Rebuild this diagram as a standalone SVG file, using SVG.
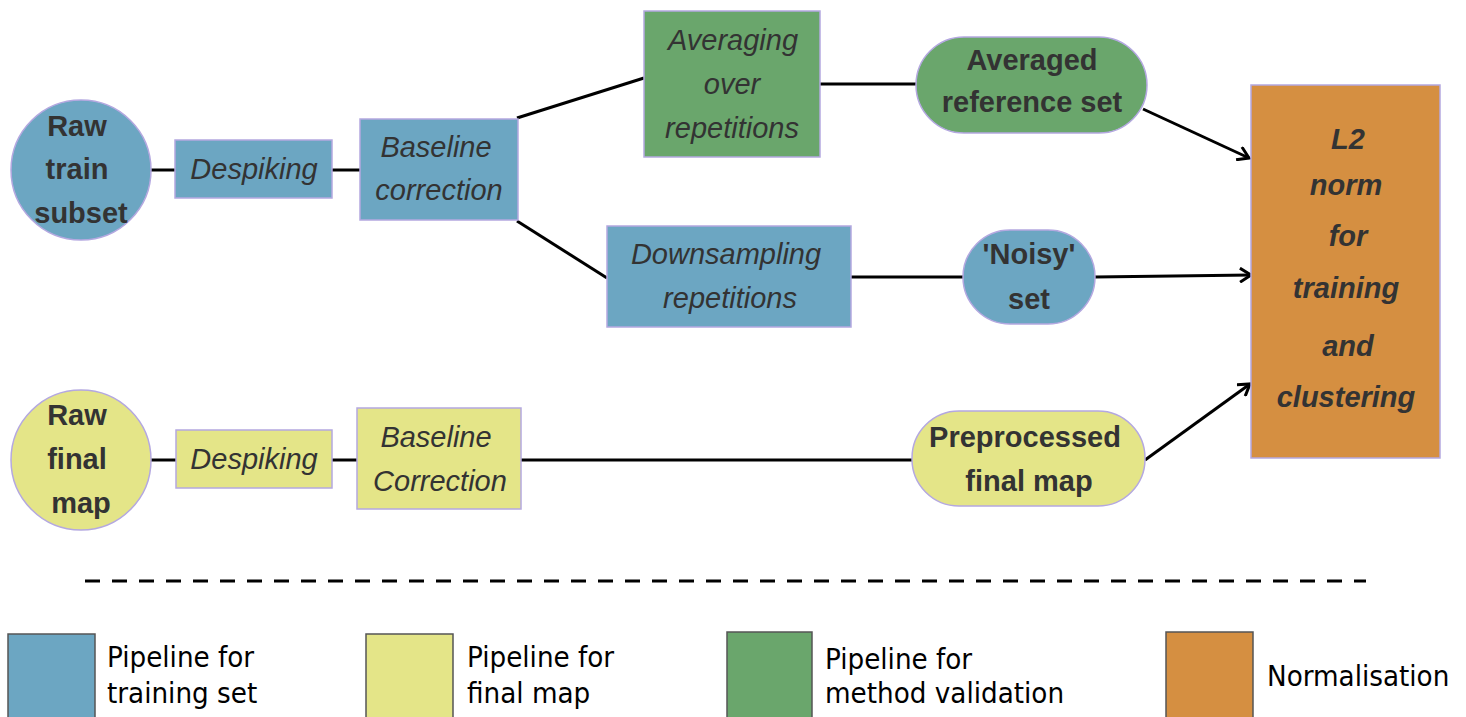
<svg xmlns="http://www.w3.org/2000/svg" width="1466" height="717" viewBox="0 0 1466 717">
<style>
.blue{fill:#6ca6c2;stroke:#b4a8e0;stroke-width:1.5}
.yel{fill:#e4e588;stroke:#b4a8e0;stroke-width:1.5}
.grn{fill:#6aa66c;stroke:#b4a8e0;stroke-width:1.5}
.org{fill:#d58f41;stroke:#b4a8e0;stroke-width:1.5}
.it{font-family:"Liberation Sans",Arial,sans-serif;font-style:italic;font-size:29px;fill:#333;text-anchor:middle}
.bd{font-family:"Liberation Sans",Arial,sans-serif;font-weight:bold;font-size:29px;fill:#333;text-anchor:middle}
.bi{font-family:"Liberation Sans",Arial,sans-serif;font-weight:bold;font-style:italic;font-size:29px;fill:#333;text-anchor:middle}
.lg{font-family:"DejaVu Sans",sans-serif;font-size:29.2px;fill:#000;font-stretch:condensed}
.lgbox{stroke:#555;stroke-width:1.5}
.c{stroke:#000;stroke-width:3;fill:none}
</style>
<defs>
<marker id="ah" markerWidth="16" markerHeight="16" refX="13" refY="8" orient="auto" markerUnits="userSpaceOnUse">
<path d="M2,1 L13,8 L2,15" fill="none" stroke="#000" stroke-width="3"/>
</marker>
</defs>
<rect width="1466" height="717" fill="#fff"/>
<g id="connectors">
<line class="c" x1="150" y1="170" x2="175" y2="170"/>
<line class="c" x1="332" y1="170" x2="360" y2="170"/>
<line class="c" x1="517" y1="118" x2="644" y2="78"/>
<line class="c" x1="517" y1="221" x2="607" y2="278"/>
<line class="c" x1="820" y1="84" x2="916" y2="84"/>
<line class="c" x1="851" y1="277" x2="963" y2="277"/>
<line class="c" x1="1143" y1="109" x2="1249" y2="158" marker-end="url(#ah)"/>
<line class="c" x1="1095" y1="277" x2="1251" y2="275" marker-end="url(#ah)"/>
<line class="c" x1="1145" y1="460" x2="1250" y2="384" marker-end="url(#ah)"/>
<line class="c" x1="150" y1="460" x2="176" y2="460"/>
<line class="c" x1="332" y1="460" x2="357" y2="460"/>
<line class="c" x1="521" y1="460" x2="912" y2="460"/>
<line x1="85" y1="581" x2="1366" y2="581" stroke="#000" stroke-width="3" stroke-dasharray="15,12"/>
</g>
<g id="raw-train">
<circle class="blue" cx="81" cy="170" r="70"/>
<text class="bd" x="77" y="136">Raw</text>
<text class="bd" x="77" y="179">train</text>
<text class="bd" x="81" y="223">subset</text>
</g>
<g id="despiking1">
<rect class="blue" x="175" y="140" width="157" height="58"/>
<text class="it" x="254" y="179">Despiking</text>
</g>
<g id="baseline1">
<rect class="blue" x="360" y="119" width="158" height="101"/>
<text class="it" x="436" y="157">Baseline</text>
<text class="it" x="439" y="200">correction</text>
</g>
<g id="averaging">
<rect class="grn" x="644" y="11" width="176" height="146"/>
<text class="it" x="733" y="50">Averaging</text>
<text class="it" x="732" y="94">over</text>
<text class="it" x="732" y="138">repetitions</text>
</g>
<g id="averaged-ref">
<rect class="grn" x="916" y="37" width="231" height="96" rx="48"/>
<text class="bd" x="1032" y="70">Averaged</text>
<text class="bd" x="1032" y="112">reference set</text>
</g>
<g id="downsampling">
<rect class="blue" x="607" y="226" width="244" height="101"/>
<text class="it" x="726" y="264">Downsampling</text>
<text class="it" x="730" y="308">repetitions</text>
</g>
<g id="noisy">
<rect class="blue" x="963" y="230" width="132" height="94" rx="47"/>
<text class="bd" x="1029" y="264">'Noisy'</text>
<text class="bd" x="1029" y="309">set</text>
</g>
<g id="l2norm">
<rect class="org" x="1251" y="85" width="189" height="373"/>
<text class="bi" x="1348" y="149">L2</text>
<text class="bi" x="1346" y="195">norm</text>
<text class="bi" x="1348" y="246">for</text>
<text class="bi" x="1346" y="298">training</text>
<text class="bi" x="1348" y="356">and</text>
<text class="bi" x="1346" y="407">clustering</text>
</g>
<g id="raw-final">
<circle class="yel" cx="81" cy="460" r="70"/>
<text class="bd" x="77" y="425">Raw</text>
<text class="bd" x="77" y="469">final</text>
<text class="bd" x="81" y="513">map</text>
</g>
<g id="despiking2">
<rect class="yel" x="176" y="430" width="156" height="58"/>
<text class="it" x="254" y="469">Despiking</text>
</g>
<g id="baseline2">
<rect class="yel" x="357" y="408" width="164" height="101"/>
<text class="it" x="436" y="447">Baseline</text>
<text class="it" x="440" y="491">Correction</text>
</g>
<g id="preprocessed">
<rect class="yel" x="912" y="411" width="233" height="95" rx="47"/>
<text class="bd" x="1025" y="447">Preprocessed</text>
<text class="bd" x="1029" y="491">final map</text>
</g>
<g id="legend">
<rect class="lgbox" x="8" y="634" width="87" height="90" fill="#6ca6c2"/>
<text class="lg" x="107" y="667">Pipeline for</text>
<text class="lg" x="107" y="703">training set</text>
<rect class="lgbox" x="366" y="634" width="87" height="90" fill="#e4e588"/>
<text class="lg" x="467" y="667">Pipeline for</text>
<text class="lg" x="467" y="703">final map</text>
<rect class="lgbox" x="727" y="632" width="85" height="92" fill="#6aa66c"/>
<text class="lg" x="825" y="669">Pipeline for</text>
<text class="lg" x="825" y="703">method validation</text>
<rect class="lgbox" x="1166" y="632" width="87" height="92" fill="#d58f41"/>
<text class="lg" x="1267" y="686">Normalisation</text>
</g>
</svg>
